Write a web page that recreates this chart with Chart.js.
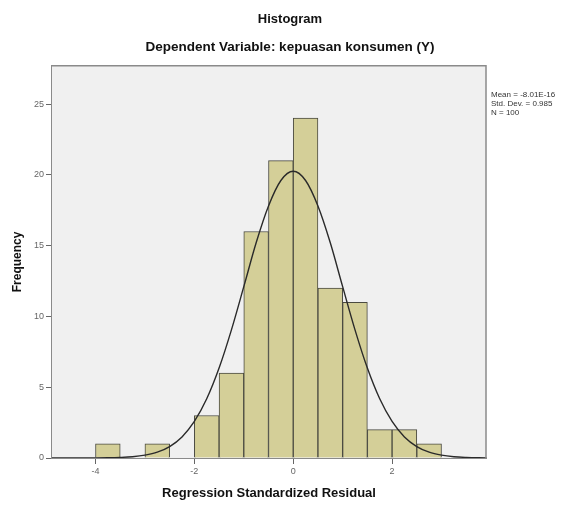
<!DOCTYPE html>
<html>
<head>
<meta charset="utf-8">
<script src="https://cdn.jsdelivr.net/npm/chart.js@4.4.1/dist/chart.umd.min.js"></script>
<style>
  html, body { margin: 0; padding: 0; background: #ffffff; }
  #wrap { width: 580px; height: 506px; }
</style>
</head>
<body>
<div id="wrap"><canvas id="c" width="580" height="506"></canvas></div>
<script>
// ---- data ----
const titleText = "Histogram";
const subtitleText = "Dependent Variable: kepuasan konsumen (Y)";
const xTitle = "Regression Standardized Residual";
const yTitle = "Frequency";
const statsLines = ["Mean = -8.01E-16", "Std. Dev. = 0.985", "N = 100"];

const binStarts = [-4, -3, -2, -1.5, -1, -0.5, 0, 0.5, 1, 1.5, 2, 2.5];
const binWidth = 0.5;
const counts = [1, 1, 3, 6, 16, 21, 24, 12, 11, 2, 2, 1];

const curveX = [-5, -4.75, -4.5, -4.25, -4, -3.75, -3.5, -3.25, -3, -2.75, -2.5, -2.25, -2, -1.75, -1.5, -1.25, -1, -0.75, -0.5, -0.25,
                0, 0.25, 0.5, 0.75, 1, 1.25, 1.5, 1.75, 2, 2.25, 2.5, 2.75, 3, 3.25, 3.5, 3.75, 4];
const curveY = [0, 0, 0, 0.002, 0.005, 0.015, 0.04, 0.09, 0.20, 0.41, 0.81, 1.49, 2.58, 4.18, 6.35, 9.05, 12.1, 15.2, 17.8, 19.6,
                20.25, 19.6, 17.8, 15.2, 12.1, 9.05, 6.35, 4.18, 2.58, 1.49, 0.81, 0.41, 0.20, 0.09, 0.04, 0.015, 0.005];

const xTicks = [-4, -2, 0, 2];
const yTicks = [0, 5, 10, 15, 20, 25];
const xMin = -4.88, xMax = 3.9;
const yMin = 0, yMax = 27.7;

// ---- build ----
const barData = binStarts.map((s, i) => ({ x: s + binWidth / 2, y: counts[i] }));
const lineData = curveX.map((x, i) => ({ x: x, y: curveY[i] }));

const plotBg = {
  id: 'plotBg',
  beforeDatasetsDraw(chart) {
    const { ctx, chartArea: a } = chart;
    ctx.save();
    ctx.fillStyle = '#F0F0F0';
    ctx.fillRect(a.left, a.top, a.right - a.left, a.bottom - a.top);
    ctx.restore();
  },
  afterDraw(chart) {
    const { ctx, chartArea: a } = chart;
    ctx.save();
    ctx.strokeStyle = '#8a8a8a';
    ctx.lineWidth = 1.5;
    ctx.beginPath();
    ctx.moveTo(a.left, a.top);
    ctx.lineTo(a.right, a.top);
    ctx.lineTo(a.right, a.bottom);
    ctx.stroke();
    ctx.fillStyle = '#333333';
    ctx.font = '8px "Liberation Sans", Arial, sans-serif';
    ctx.textBaseline = 'middle';
    ctx.textAlign = 'left';
    statsLines.forEach((t, i) => ctx.fillText(t, a.right + 5, 95 + i * 9));
    ctx.restore();
  }
};

Chart.defaults.font.family = '"Liberation Sans", Arial, sans-serif';

new Chart(document.getElementById('c'), {
  type: 'bar',
  data: {
    datasets: [
      {
        type: 'line',
        data: lineData,
        borderColor: '#2a2a2a',
        borderWidth: 1.4,
        pointRadius: 0,
        cubicInterpolationMode: 'monotone',
        fill: false,
        order: 0
      },
      {
        type: 'bar',
        data: barData,
        backgroundColor: '#D4CF98',
        borderColor: '#4a4a40',
        borderWidth: 1,
        barPercentage: 1,
        categoryPercentage: 1,
        order: 1
      }
    ]
  },
  plugins: [plotBg],
  options: {
    responsive: false,
    animation: false,
    events: [],
    layout: { padding: { left: 0, right: 0, top: 0, bottom: 0 } },
    plugins: {
      legend: { display: false },
      tooltip: { enabled: false },
      title: {
        display: true, text: titleText, color: '#111',
        font: { size: 13, weight: 'bold' },
        padding: { top: 12, bottom: 12 }
      },
      subtitle: {
        display: true, text: subtitleText, color: '#111',
        font: { size: 13.5, weight: 'bold' },
        padding: { top: 0, bottom: 10 }
      }
    },
    scales: {
      x: {
        type: 'linear', min: xMin, max: xMax, offset: false,
        grid: { offset: false, drawOnChartArea: false, drawTicks: true, tickLength: 6, color: '#666', lineWidth: 1 },
        border: { display: true, color: '#8a8a8a', width: 2 },
        ticks: { color: '#666', font: { size: 9 }, padding: 2, includeBounds: false },
        afterBuildTicks: s => { s.ticks = xTicks.map(v => ({ value: v })); },
        afterFit: s => { s.height = 48; },
        title: { display: true, text: xTitle, color: '#111', font: { size: 13, weight: 'bold' }, padding: { top: 0, bottom: 5 } }
      },
      y: {
        type: 'linear', min: yMin, max: yMax,
        grid: { drawOnChartArea: false, drawTicks: true, tickLength: 6, color: '#666', lineWidth: 1 },
        border: { display: true, color: '#8a8a8a', width: 2 },
        ticks: { color: '#666', font: { size: 9 }, padding: 2, includeBounds: false },
        afterBuildTicks: s => { s.ticks = yTicks.map(v => ({ value: v })); },
        afterFit: s => { s.width = 52; },
        title: { display: true, text: yTitle, color: '#111', font: { size: 12, weight: 'bold' }, padding: { top: 10, bottom: 0 } }
      },
      side: {
        type: 'linear', position: 'right', display: true,
        grid: { display: false, drawTicks: false },
        border: { display: false },
        ticks: { display: false },
        afterFit: s => { s.width = 94; }
      }
    }
  }
});
</script>
</body>
</html>
